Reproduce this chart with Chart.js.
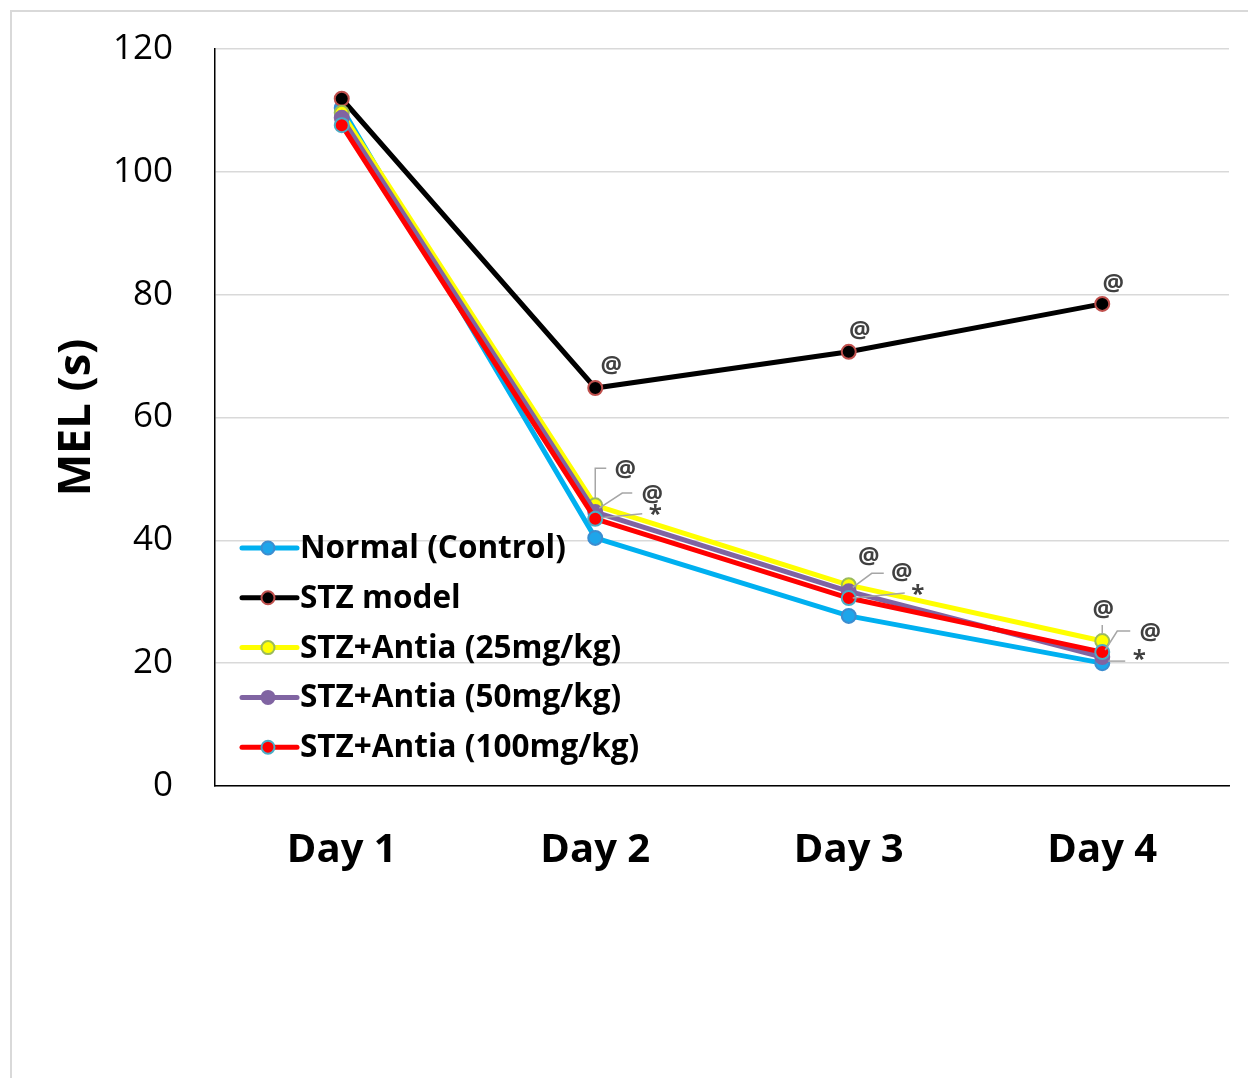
<!DOCTYPE html>
<html><head><meta charset="utf-8">
<script src="https://cdn.jsdelivr.net/npm/chart.js@4.4.0/dist/chart.umd.min.js"></script>
<style>
html,body{margin:0;padding:0;background:#fff;overflow:hidden;width:1248px;height:1078px;}
#frame{position:absolute;left:10px;top:10px;width:1300px;height:1100px;border:2px solid #d9d9d9;box-sizing:border-box;}
#c{position:absolute;left:0;top:0;}
</style></head><body>
<div id="frame"></div>
<canvas id="c" width="1248" height="1078"></canvas>
<script>
// ---- data ----
const categories = ['Day 1', 'Day 2', 'Day 3', 'Day 4'];
const seriesNames = ['Normal (Control)', 'STZ model', 'STZ+Antia (25mg/kg)', 'STZ+Antia (50mg/kg)', 'STZ+Antia (100mg/kg)'];
const normalControl = [110.4, 40.4, 27.7, 20.0];
const stzModel = [111.9, 64.8, 70.7, 78.5];
const antia25 = [109.6, 45.7, 32.7, 23.6];
const antia50 = [108.8, 44.6, 31.7, 21.0];
const antia100 = [107.6, 43.5, 30.6, 21.8];
const yTickValues = [0, 20, 40, 60, 80, 100, 120];
const yAxisTitle = 'MEL (s)';
// significance marks: [series index, day index, text]
const marks = [
  [1, 1, '@'], [1, 2, '@'], [1, 3, '@'],
  [2, 1, '@'], [3, 1, '@'], [4, 1, '*'],
  [2, 2, '@'], [3, 2, '@'], [4, 2, '*'],
  [2, 3, '@'], [3, 3, '@'], [4, 3, '*']
];

// ---- styles ----
const lineColors = ['#00B0F0', '#000000', '#FFFF00', '#8064A2', '#FF0000'];
const markerFill = ['#1EA5EA', '#000000', '#FFFF00', '#8064A2', '#FF0000'];
const markerBorder = ['#3C8DD0', '#C0504D', '#9BBB59', '#8064A2', '#4BACC6'];
// label placement offsets (px from point) and leader lines
const markPlacement = [
  {dx: 16, dy: -22}, {dx: 11, dy: -21}, {dx: 11, dy: -20},
  {dx: 30, dy: -35, leader: [[0, -7], [0, -37], [11, -37]]},
  {dx: 57, dy: -17, leader: [[4, -4], [27, -19], [37, -19]]},
  {dx: 60, dy: -4, leader: [[6, -1], [47, -5]]},
  {dx: 20, dy: -28},
  {dx: 53, dy: -18, leader: [[4, -4], [23, -18], [35, -18]]},
  {dx: 69, dy: -3, leader: [[4, 0], [56, -5]]},
  {dx: 1, dy: -31, leader: [[0, -7], [0, -16]]},
  {dx: 48, dy: -24, leader: [[3, -7], [15, -26], [28, -26]]},
  {dx: 37, dy: 8, leader: [[6, 9], [23, 9]]}
];

const allSeries = [normalControl, stzModel, antia25, antia50, antia100];
const datasets = allSeries.map((vals, i) => ({
  label: seriesNames[i],
  data: vals,
  borderColor: lineColors[i],
  backgroundColor: markerFill[i],
  pointBackgroundColor: markerFill[i],
  pointBorderColor: markerBorder[i],
  pointBorderWidth: 2,
  pointRadius: 7,
  borderWidth: 5,
  tension: 0,
  order: allSeries.length - i
}));

const overlayPlugin = {
  id: 'overlay',
  afterDatasetsDraw(chart) {
    const ctx = chart.ctx;
    ctx.save();
    // significance labels
    marks.forEach((m, k) => {
      const pt = chart.getDatasetMeta(m[0]).data[m[1]];
      const p = markPlacement[k];
      if (p.leader) {
        ctx.strokeStyle = '#A6A6A6';
        ctx.lineWidth = 1.5;
        ctx.beginPath();
        p.leader.forEach(([dx, dy], i) => i ? ctx.lineTo(pt.x + dx, pt.y + dy) : ctx.moveTo(pt.x + dx, pt.y + dy));
        ctx.stroke();
      }
      ctx.fillStyle = '#404040';
      ctx.font = 'bold 24px "Open Sans"';
      ctx.textAlign = 'center';
      ctx.textBaseline = 'middle';
      ctx.fillText(m[2], pt.x + p.dx, pt.y + p.dy);
    });
    // legend
    const lx = 242, ly = 548, step = 49.8;
    chart.data.datasets.forEach((ds, i) => {
      const y = ly + i * step;
      ctx.strokeStyle = ds.borderColor;
      ctx.lineWidth = 5;
      ctx.lineCap = 'round';
      ctx.beginPath(); ctx.moveTo(lx, y); ctx.lineTo(lx + 55, y); ctx.stroke();
      ctx.beginPath(); ctx.arc(lx + 26, y, 6.5, 0, Math.PI * 2);
      ctx.fillStyle = ds.pointBackgroundColor; ctx.fill();
      ctx.lineWidth = 2; ctx.strokeStyle = ds.pointBorderColor; ctx.stroke();
      ctx.fillStyle = '#000';
      ctx.font = 'bold 31.5px "Open Sans"';
      ctx.textAlign = 'left';
      ctx.textBaseline = 'middle';
      ctx.fillText(ds.label, lx + 58, y + 1);
    });
    ctx.restore();
  }
};

new Chart(document.getElementById('c'), {
  type: 'line',
  data: {labels: categories, datasets},
  plugins: [overlayPlugin],
  options: {
    responsive: false,
    devicePixelRatio: 1,
    animation: false,
    layout: {padding: {top: 49, right: 19, left: 0, bottom: 0}},
    plugins: {legend: {display: false}, tooltip: {enabled: false}},
    scales: {
      x: {
        offset: true,
        grid: {display: false, drawTicks: false},
        border: {display: true, color: '#000', width: 1.5},
        ticks: {color: '#000', font: {family: 'Open Sans', size: 40, weight: 'bold'}, padding: 41},
        afterFit(s) { s.height = 292; }
      },
      y: {
        min: 0, max: 120,
        afterBuildTicks(s) { s.ticks = yTickValues.map(v => ({value: v})); },
        grid: {color: '#D9D9D9', lineWidth: 1.5, drawTicks: false},
        border: {display: true, color: '#000', width: 1.5},
        ticks: {color: '#000', font: {family: 'Open Sans', size: 35}, padding: 42},
        title: {display: true, text: yAxisTitle, color: '#000', font: {family: 'Open Sans', size: 45, weight: 'bold'}, padding: {top: 50, bottom: 0}},
        afterFit(s) { s.width = 215; s.paddingTop = 0; s.paddingBottom = 0; }
      }
    }
  }
});
</script>
</body></html>
